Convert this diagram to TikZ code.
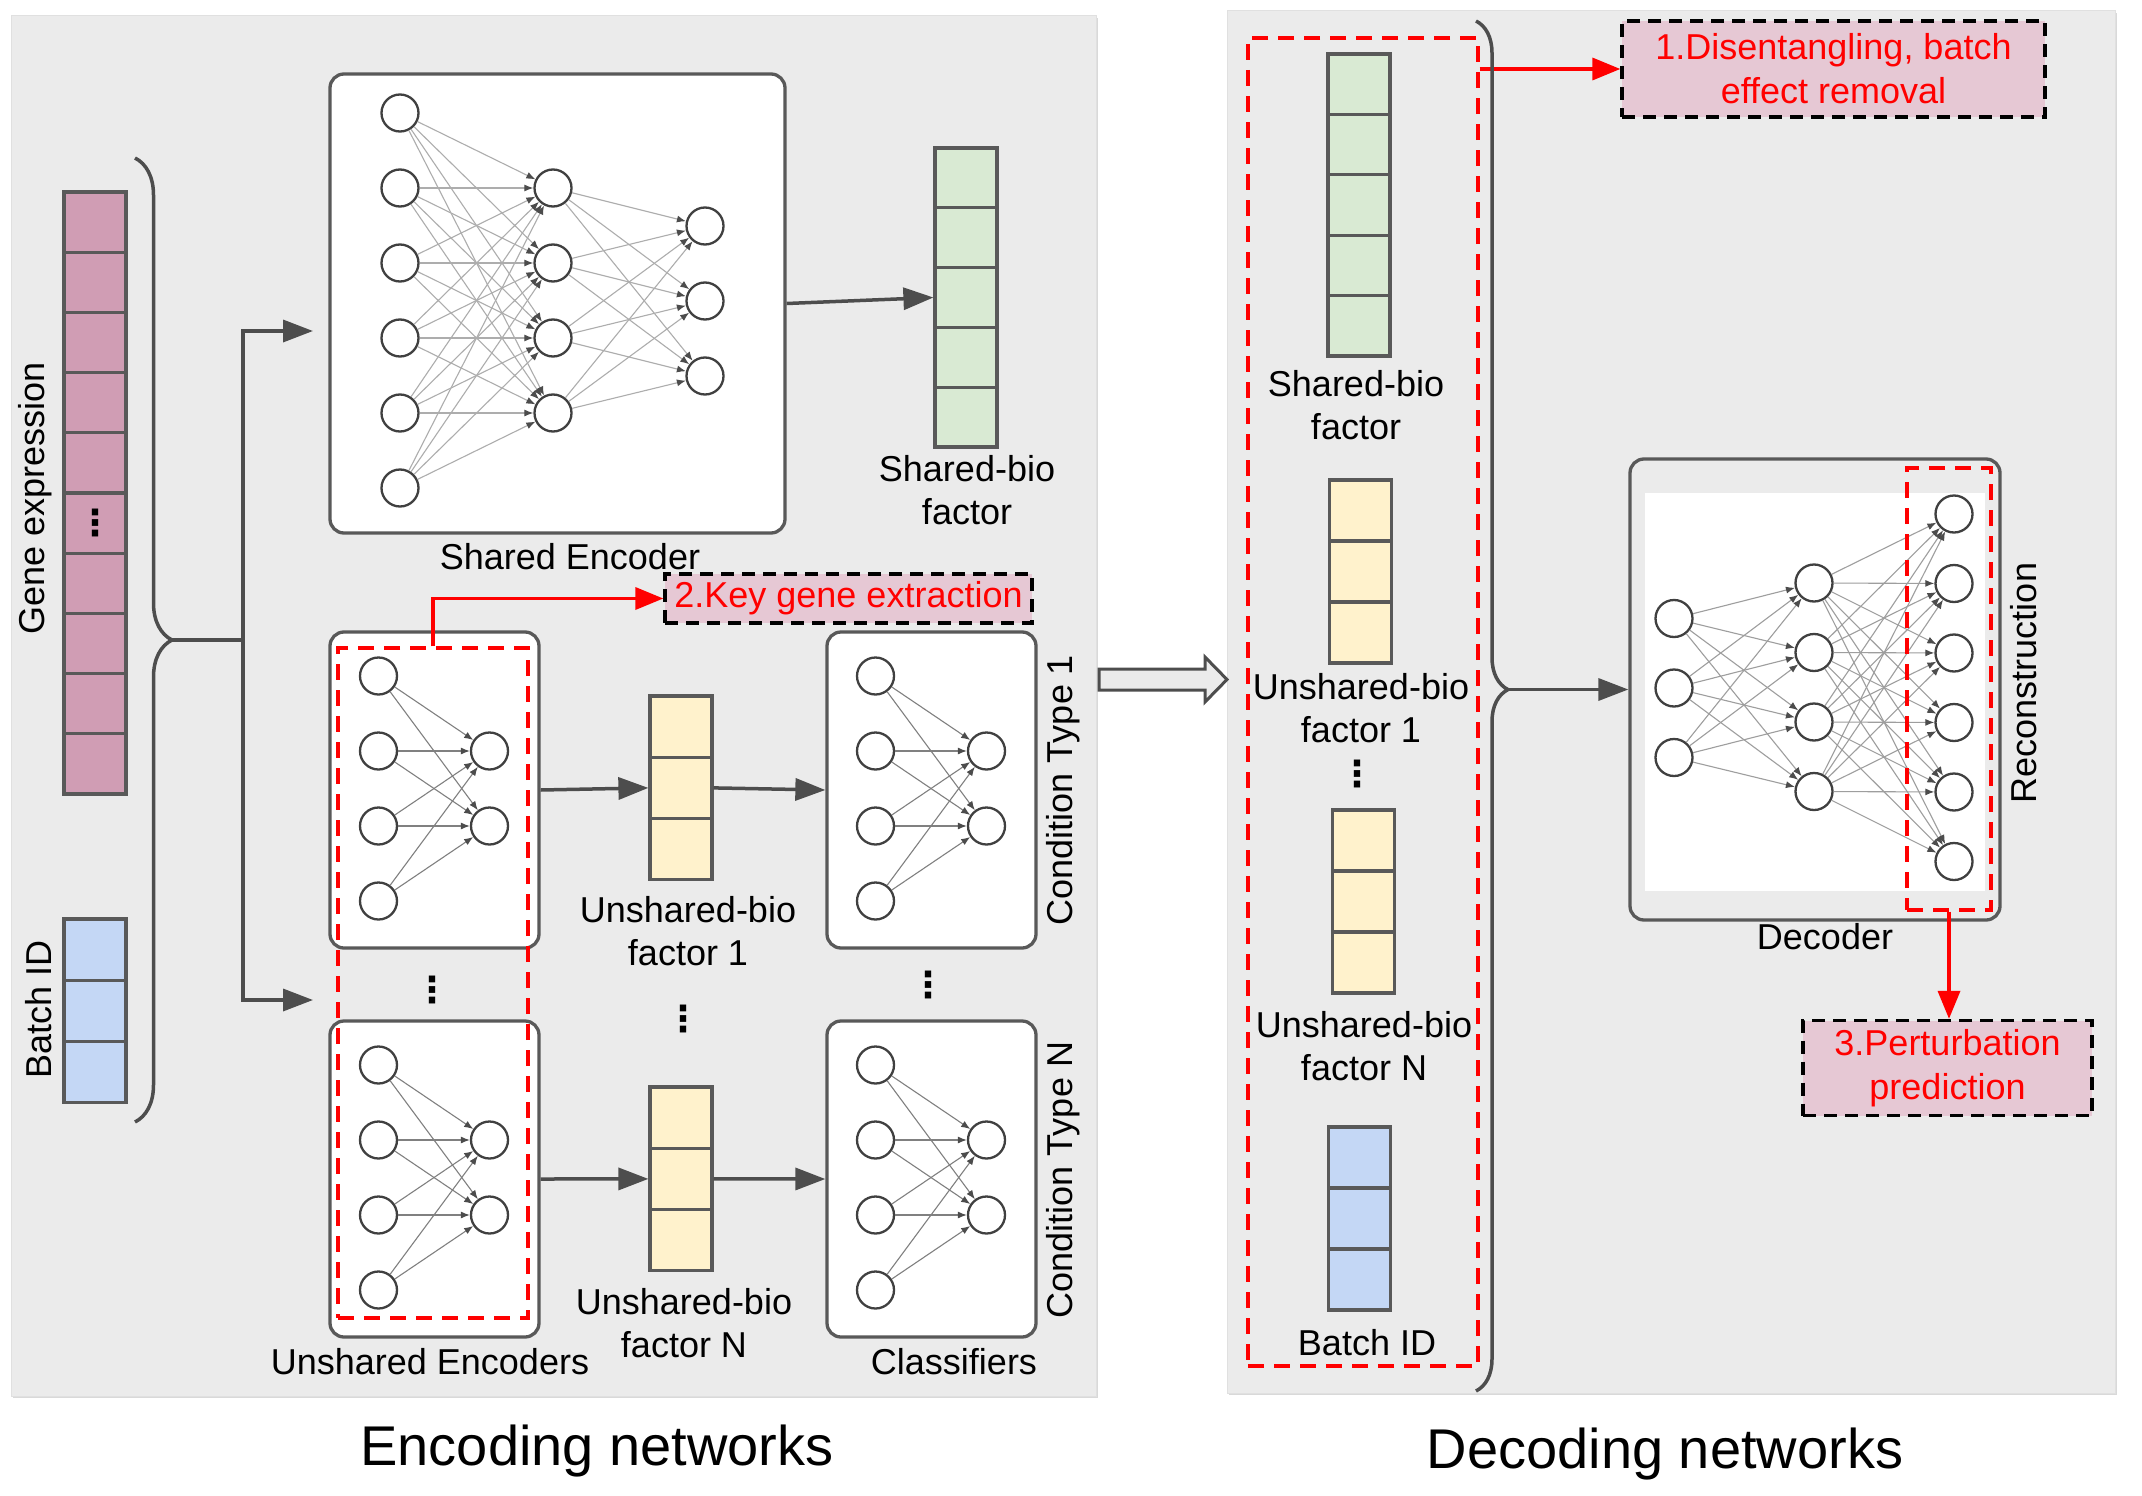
\documentclass[tikz,border=0pt]{standalone}
\usepackage{fontspec}
\setmainfont{Liberation Sans}
\newfontfamily\dotsfont{DejaVu Sans}
\usetikzlibrary{arrows.meta,decorations.pathreplacing,shadows}

\definecolor{panelgray}{HTML}{EBEBEB}
\definecolor{genepink}{HTML}{D09DB4}
\definecolor{biogreen}{HTML}{D9EAD3}
\definecolor{bioyellow}{HTML}{FFF2CC}
\definecolor{batchblue}{HTML}{C4D7F5}
\definecolor{notepink}{HTML}{E6C8D4}
\definecolor{linegray}{HTML}{4D4D4D}
\definecolor{redline}{HTML}{FF0000}

\tikzset{
  panel/.style={fill=panelgray, draw=black!12, line width=1pt,
    drop shadow={shadow xshift=2pt, shadow yshift=-2pt, opacity=.3}},
  netbox/.style={draw=black!65, line width=3.3pt, rounded corners=14pt, fill=white, inner sep=0},
  neuron/.style={circle, draw=black!75, line width=2.3pt, fill=white, minimum size=37pt, inner sep=0},
  wire/.style={draw=black!32, line width=1.1pt, -{Latex[length=9pt,width=7pt,color=black!70]}},
  cell/.style={draw=black!65, line width=3.2pt, minimum width=62pt, minimum height=#1, inner sep=0},
  flow/.style={draw=linegray, line width=3.5pt, -{Triangle[length=30pt,width=22pt]}},
  redflow/.style={draw=redline, line width=3.5pt, -{Triangle[length=28pt,width=22pt]}},
  reddash/.style={draw=redline, line width=3.3pt, dash pattern=on 16pt off 10pt, inner sep=0},
  notebox/.style={draw=black, fill=notepink, text=redline, line width=3.3pt,
    dash pattern=on 13pt off 8pt, font=\fontsize{36}{44}\selectfont, align=center, inner sep=0},
  lbl/.style={font=\fontsize{36}{43}\selectfont, align=center, inner sep=0},
  bigtitle/.style={font=\fontsize{56}{60}\selectfont, inner sep=0},
  dotsv/.style={font=\dotsfont\bfseries\fontsize{36}{36}\selectfont, inner sep=0},
  brc/.style={draw=linegray, line width=3.5pt, decorate},
}

\begin{document}
\begin{tikzpicture}[x=1pt,y=-1pt]
\useasboundingbox (0,0) rectangle (2142,1496);

% Panels
\path[panel] (11,16) rectangle (1096,1396);
\path[panel] (1227,11) rectangle (2115,1393);

% Input columns
\foreach \i in {1,...,10}
  \node[cell=60.2pt, fill=genepink] (ge\i) at (95,161.9+60.2*\i) {};
\node[dotsv] (gedots) at (ge6) {⋮};
\foreach \i in {1,2,3}
  \node[cell=61.3pt, fill=batchblue] (bt\i) at (95,888.3+61.3*\i) {};
\node[lbl, rotate=90] (gelbl) at (35,498) {Gene expression};
\node[lbl, rotate=90] (btlbl) at (39,1009) {Batch ID};

% Brace and split
\draw[brc, decoration={brace, amplitude=37pt}] (135,158) -- (135,1122);
\coordinate (intip) at (172,640);
\coordinate (split) at (243,640);
\coordinate (toSE) at (313,331);
\coordinate (toUE) at (313,1000);
\draw[linegray, line width=3.5pt] (intip) -- (split);
\draw[flow] (split) |- (toSE);
\draw[flow] (split) |- (toUE);

% Shared encoder
\node[netbox, minimum width=455pt, minimum height=459pt] (se) at (557.5,303.5) {};
\foreach \i in {1,...,6} \node[neuron] (sea\i) at (400,38+75*\i) {};
\foreach \j in {1,...,4} \node[neuron] (seb\j) at (553,113+75*\j) {};
\foreach \k in {1,2,3} \node[neuron] (sec\k) at (705,151+75*\k) {};
\foreach \i in {1,...,6} \foreach \j in {1,...,4} \draw[wire] (sea\i) -- (seb\j);
\foreach \j in {1,...,4} \foreach \k in {1,2,3} \draw[wire] (seb\j) -- (sec\k);
\node[lbl] (selbl) at (570,557) {Shared Encoder};

% Shared-bio factor
\foreach \i in {1,...,5}
  \node[cell=59.8pt, fill=biogreen] (sbl\i) at (966,118.1+59.8*\i) {};
\node[lbl] (sbllbl) at (967,490) {Shared-bio\\factor};
\draw[flow] (se.east) -- (sbl3.west);

% Unshared encoders and classifiers
\foreach \nm/\cx/\cy in {ue1/434.5/790, ueN/434.5/1179, cl1/931.5/790, clN/931.5/1179} {
  \node[netbox, minimum width=209pt, minimum height=316pt] (\nm) at (\cx,\cy) {};
  \foreach \i in {1,...,4} \node[neuron] (\nm-a\i) at (\cx-56,\cy-189+75*\i) {};
  \foreach \j in {1,2} \node[neuron] (\nm-b\j) at (\cx+55,\cy-114+75*\j) {};
  \foreach \i in {1,...,4} \foreach \j in {1,2}
    \draw[wire, draw=black!50] (\nm-a\i) -- (\nm-b\j);
}
\node[reddash, minimum width=190pt, minimum height=670pt] (uered) at (433,983) {};
\node[dotsv] (uedots) at (432,990) {⋮};
\node[dotsv] (cldots) at (928,985) {⋮};
\node[lbl] (uelbl) at (430,1362) {Unshared Encoders};
\node[lbl] (cllbl) at (954,1362) {Classifiers};
\node[lbl, rotate=90] (ct1lbl) at (1063,790) {Condition Type 1};
\node[lbl, rotate=90] (ctNlbl) at (1063,1180) {Condition Type N};

% Unshared-bio factors
\foreach \i in {1,2,3} {
  \node[cell=61.3pt, fill=bioyellow] (ub1-\i) at (681,665.3+61.3*\i) {};
  \node[cell=61.3pt, fill=bioyellow] (ubN-\i) at (681,1056.3+61.3*\i) {};
}
\node[dotsv] (ubdots) at (683,1019) {⋮};
\node[lbl] (ub1lbl) at (688,931) {Unshared-bio\\factor 1};
\node[lbl] (ubNlbl) at (684,1323) {Unshared-bio\\factor N};
\draw[flow] (ue1.east) -- (ub1-2.west);
\draw[flow] (ub1-2.east) -- (cl1.west);
\draw[flow] (ueN.east) -- (ubN-2.west);
\draw[flow] (ubN-2.east) -- (clN.west);

% Key gene note
\node[notebox, minimum width=367pt, minimum height=49pt] (note2) at (848.5,598.5) {2.Key gene extraction};
\draw[redflow] (uered.north) |- (note2.west);

% Hollow arrow between panels
\draw[linegray, line width=3pt, fill=panelgray, line join=miter]
  (1099,669) -- (1205,669) -- (1205,657) -- (1227,679.5) -- (1205,702) -- (1205,690) -- (1099,690) -- cycle;

% Latent factors (decoding side)
\node[reddash, minimum width=230pt, minimum height=1328pt] (decred) at (1363,702) {};
\foreach \i in {1,...,5}
  \node[cell=60.4pt, fill=biogreen] (sbr\i) at (1359,23.8+60.4*\i) {};
\foreach \i in {1,2,3} {
  \node[cell=61pt, fill=bioyellow] (ubr1-\i) at (1360.5,449.5+61*\i) {};
  \node[cell=61pt, fill=bioyellow] (ubrN-\i) at (1363.5,779.5+61*\i) {};
  \node[cell=61pt, fill=batchblue] (btr\i) at (1359.5,1096.5+61*\i) {};
}
\node[lbl] (sbrlbl) at (1356,405) {Shared-bio\\factor};
\node[lbl] (ubr1lbl) at (1361,708) {Unshared-bio\\factor 1};
\node[dotsv] (ubrdots) at (1357,774) {⋮};
\node[lbl] (ubrNlbl) at (1364,1046) {Unshared-bio\\factor N};
\node[lbl] (btrlbl) at (1367,1343) {Batch ID};

% Disentangling note
\node[notebox, minimum width=423pt, minimum height=96pt] (note1) at (1833.5,69) {1.Disentangling, batch\\effect removal};
\draw[redflow] (decred.east |- note1.west) -- (note1.west);

% Brace into decoder
\draw[brc, decoration={brace, amplitude=32pt, aspect=0.488}] (1476,21) -- (1476,1391);
\coordinate (outtip) at (1508,689.5);

% Decoder
\node[netbox, fill=panelgray, minimum width=370pt, minimum height=461pt] (dec) at (1815,689.5) {};
\node[fill=white, minimum width=340pt, minimum height=398pt, inner sep=0] (decin) at (1815,692) {};
\foreach \i in {1,2,3} \node[neuron] (deca\i) at (1674,549+69.5*\i) {};
\foreach \j in {1,...,4} \node[neuron] (decb\j) at (1814,513.5+69.5*\j) {};
\foreach \k in {1,...,6} \node[neuron] (decc\k) at (1954,444.5+69.5*\k) {};
\foreach \i in {1,2,3} \foreach \j in {1,...,4} \draw[wire, draw=black!38] (deca\i) -- (decb\j);
\foreach \j in {1,...,4} \foreach \k in {1,...,6} \draw[wire, draw=black!38] (decb\j) -- (decc\k);
\node[reddash, minimum width=84pt, minimum height=442pt] (recred) at (1949,689) {};
\draw[flow] (outtip) -- (dec.west);
\node[lbl] (declbl) at (1825,937) {Decoder};
\node[lbl, rotate=90] (reclbl) at (2024,683) {Reconstruction};

% Perturbation note
\node[notebox, minimum width=289pt, minimum height=95pt] (note3) at (1947.5,1068) {3.Perturbation\\prediction};
\draw[redflow] (recred.south) -- (recred.south |- note3.north);

% Titles
\node[bigtitle] (enclbl) at (597,1451) {Encoding networks};
\node[bigtitle] (dectitle) at (1665,1454) {Decoding networks};

\end{tikzpicture}
\end{document}
